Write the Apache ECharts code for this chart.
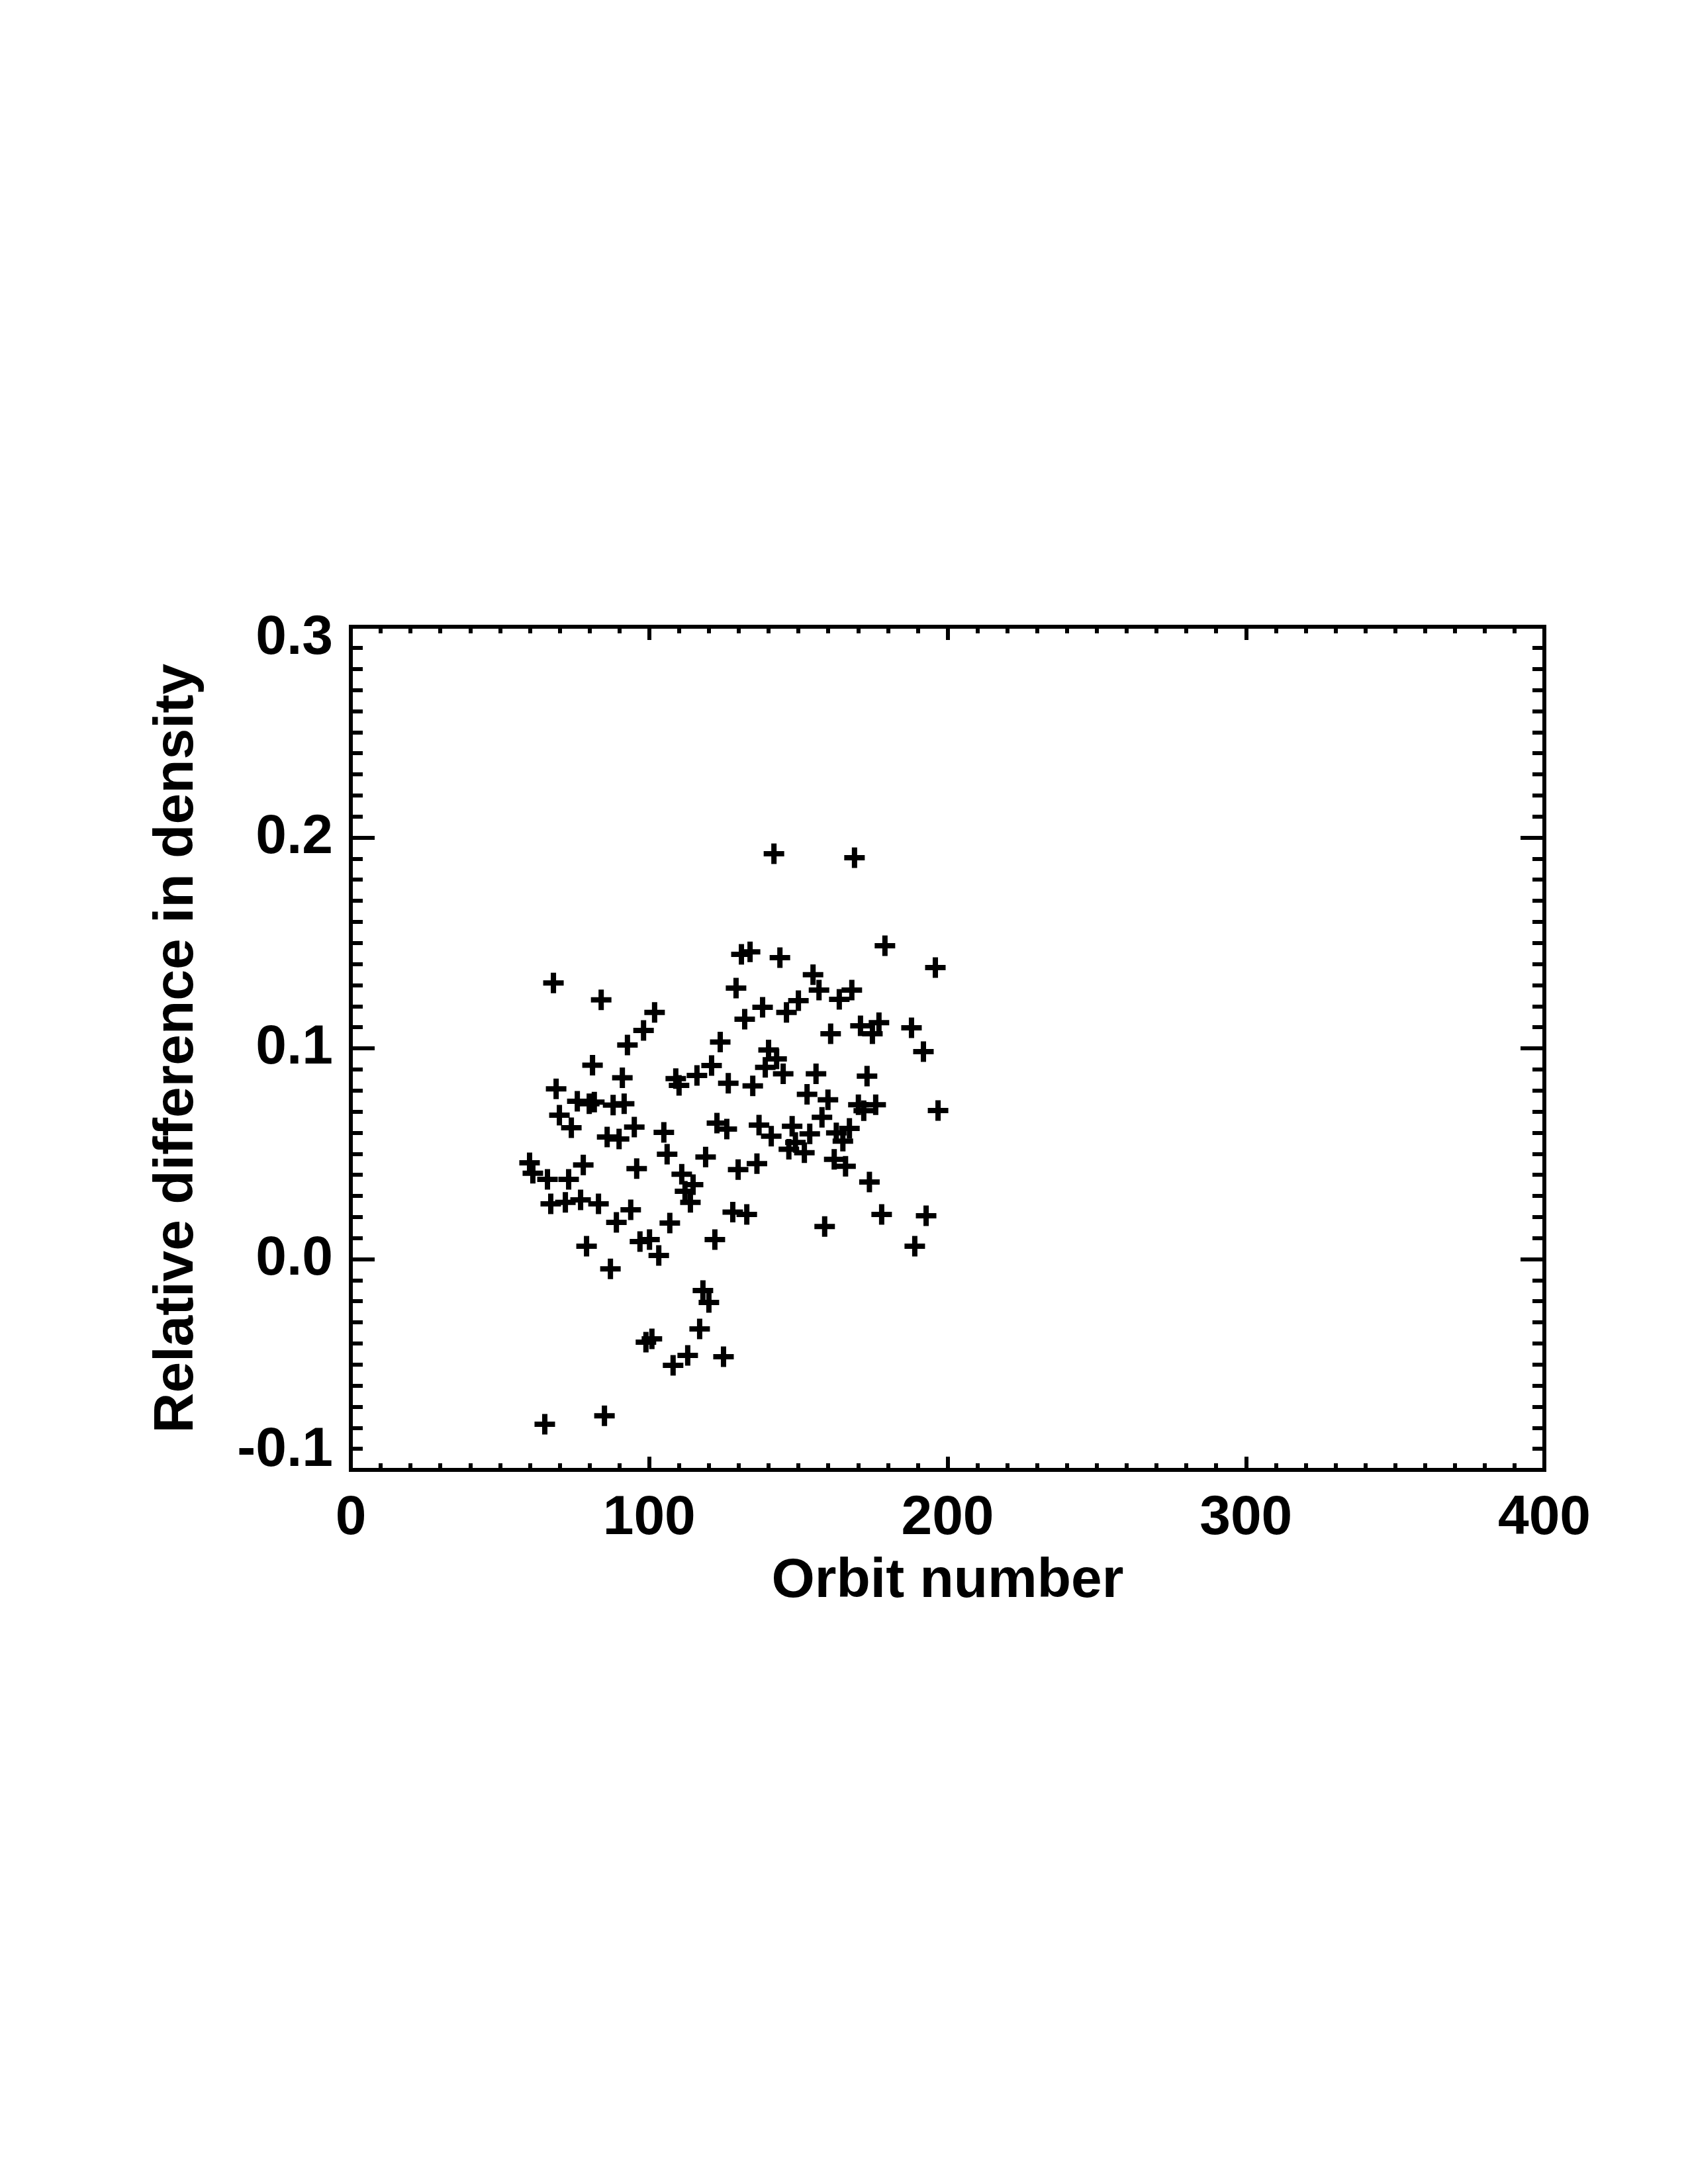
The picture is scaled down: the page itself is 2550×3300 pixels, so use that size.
<!DOCTYPE html>
<html>
<head>
<meta charset="utf-8">
<script src="https://cdn.jsdelivr.net/npm/echarts@6/dist/echarts.min.js"></script>
<style>
html, body { margin: 0; padding: 0; background: #fff; }
#chart { width: 2550px; height: 3300px; }
</style>
</head>
<body>
<div id="chart"></div>
<script>
// orbit number of every point
var orbit = [
  67.9, 83.9, 101.8, 98.1, 92.7, 123.8, 81.0, 91.0, 108.9, 110.0, 116.0, 120.9, 126.5, 68.8,
  75.9, 79.9, 81.6, 87.9, 91.6, 69.9, 73.9, 85.9, 89.9, 95.0, 104.9, 122.7, 126.0,
  59.9, 61.0, 65.9, 73.0, 77.9, 67.0, 71.9, 77.0, 83.0, 89.0, 93.8, 95.8, 106.0, 118.9,
  110.9, 114.7, 112.0, 113.8, 128.0, 106.9, 96.9, 100.1, 103.2, 122.0, 79.0, 87.0,
  118.0, 120.0, 116.9, 98.9, 100.9, 112.9, 108.0, 124.9, 85.0, 65.0,
  141.8, 168.8, 179.0, 195.9, 130.9, 133.8, 143.8, 154.9, 156.9, 129.1, 138.0, 132.0,
  146.0, 150.0, 167.9, 163.7, 160.8, 170.8, 174.8, 177.0, 187.9, 191.9, 140.0, 142.7,
  138.9, 144.9, 155.9, 173.0, 134.7, 152.9, 159.9, 170.1, 175.9, 171.9, 196.8, 157.9,
  136.8, 140.9, 147.9, 153.8, 149.0, 146.8, 152.0, 162.7, 167.1, 164.9, 162.0, 165.8,
  173.8, 129.8, 136.1, 132.7, 158.8, 177.9, 192.8, 189.0
];
// relative difference in density, same order
var relDiff = [
  0.131, 0.123, 0.117, 0.1085, 0.1016, 0.103, 0.092, 0.086, 0.0856, 0.0824, 0.0871, 0.0918, 0.0834, 0.0808,
  0.0749, 0.0737, 0.0745, 0.0731, 0.0737, 0.0683, 0.0623, 0.0579, 0.057, 0.0626, 0.0601, 0.0645, 0.0617,
  0.0457, 0.0407, 0.0378, 0.0378, 0.0447, 0.0262, 0.0269, 0.0281, 0.0262, 0.0174, 0.0234, 0.0429, 0.0498, 0.0484,
  0.0403, 0.0353, 0.0322, 0.0269, 0.0223, 0.0171, 0.0083, 0.0093, 0.0017, 0.0093, 0.0061, -0.0046,
  -0.0149, -0.0206, -0.0331, -0.0394, -0.0378, -0.0457, -0.0504, -0.0463, -0.0743, -0.0783,
  0.1923, 0.1904, 0.1487, 0.1383, 0.1446, 0.1458, 0.143, 0.1349, 0.1276, 0.1286, 0.1195, 0.1138,
  0.117, 0.1226, 0.1276, 0.1232, 0.1069, 0.1107, 0.1069, 0.1122, 0.1097, 0.0984, 0.0992, 0.095,
  0.091, 0.0879, 0.0879, 0.0868, 0.0822, 0.0782, 0.0756, 0.0732, 0.0732, 0.0704, 0.0705, 0.0673,
  0.0636, 0.0583, 0.063, 0.0594, 0.0553, 0.0521, 0.0505, 0.0599, 0.062, 0.056, 0.0473, 0.044,
  0.0366, 0.0425, 0.0453, 0.0212, 0.0155, 0.0212, 0.0206, 0.0061
];
// axis ranges / ticks
var xRange = [0, 400], xStep = 100;
var yRange = [-0.1, 0.3], yStep = 0.1;
var xTitle = 'Orbit number';
var yTitle = 'Relative difference in density';

var font = '"Liberation Sans", Arial, Helvetica, sans-serif';
var lineW = 6;

var points = orbit.map(function (o, i) { return [o, relDiff[i]]; });

// shared axis look, ticks pointing inward
function axisBase(range, step, pos) {
  return {
    type: 'value',
    position: pos,
    min: range[0],
    max: range[1],
    interval: step,
    axisLine: { show: true, onZero: false, lineStyle: { color: '#000', width: lineW, cap: 'square' } },
    axisTick: { show: true, inside: true, length: 36, lineStyle: { color: '#000', width: lineW } },
    minorTick: { show: true, splitNumber: 10, length: 18, lineStyle: { color: '#000', width: lineW } },
    splitLine: { show: false },
    axisLabel: { show: false }
  };
}

var xBottom = axisBase(xRange, xStep, 'bottom');
xBottom.axisTick.length = 20;
xBottom.minorTick.length = 10;
xBottom.axisLabel = {
  show: true, margin: 32, color: '#000', fontFamily: font, fontWeight: 'bold', fontSize: 84,
  showMinLabel: true, showMaxLabel: true, hideOverlap: false
};
xBottom.name = xTitle;
xBottom.nameLocation = 'middle';
xBottom.nameGap = 127;
xBottom.nameTextStyle = { color: '#000', fontFamily: font, fontWeight: 'bold', fontSize: 84 };

var xTop = axisBase(xRange, xStep, 'top');
xTop.axisTick.length = 20;
xTop.minorTick.length = 10;

var yLeft = axisBase(yRange, yStep, 'left');
yLeft.axisLabel = {
  show: true, margin: 27, color: '#000', fontFamily: font, fontWeight: 'bold', fontSize: 84,
  showMinLabel: true, showMaxLabel: true, hideOverlap: false,
  formatter: function (v) {
    var s = v.toFixed(1);
    if (v > yRange[1] - 1e-9) return '{hi|' + s + '}';
    if (v < yRange[0] + 1e-9) return '{lo|' + s + '}';
    return s;
  },
  rich: {
    hi: { padding: [36, 0, 0, 0], fontFamily: font, fontWeight: 'bold', fontSize: 84, color: '#000' },
    lo: { padding: [0, 0, 58, 0], fontFamily: font, fontWeight: 'bold', fontSize: 84, color: '#000' }
  }
};
yLeft.name = yTitle;
yLeft.nameLocation = 'middle';
yLeft.nameGap = 220;
yLeft.nameTextStyle = { color: '#000', fontFamily: font, fontWeight: 'bold', fontSize: 84 };

var yRight = axisBase(yRange, yStep, 'right');

var chart = echarts.init(document.getElementById('chart'), null, { renderer: 'canvas' });
chart.setOption({
  backgroundColor: '#fff',
  animation: false,
  grid: { left: 530, right: 217, top: 947, bottom: 1079, containLabel: false, outerBoundsMode: 'none' },
  xAxis: [xBottom, xTop],
  yAxis: [yLeft, yRight],
  series: [{
    type: 'scatter',
    xAxisIndex: 0,
    yAxisIndex: 0,
    data: points,
    symbol: 'path://M11.5,0H19.5V11.5H31V19.5H19.5V31H11.5V19.5H0V11.5H11.5Z',
    symbolSize: 31,
    itemStyle: { color: '#000', opacity: 1 },
    silent: true
  }]
});
</script>
</body>
</html>
